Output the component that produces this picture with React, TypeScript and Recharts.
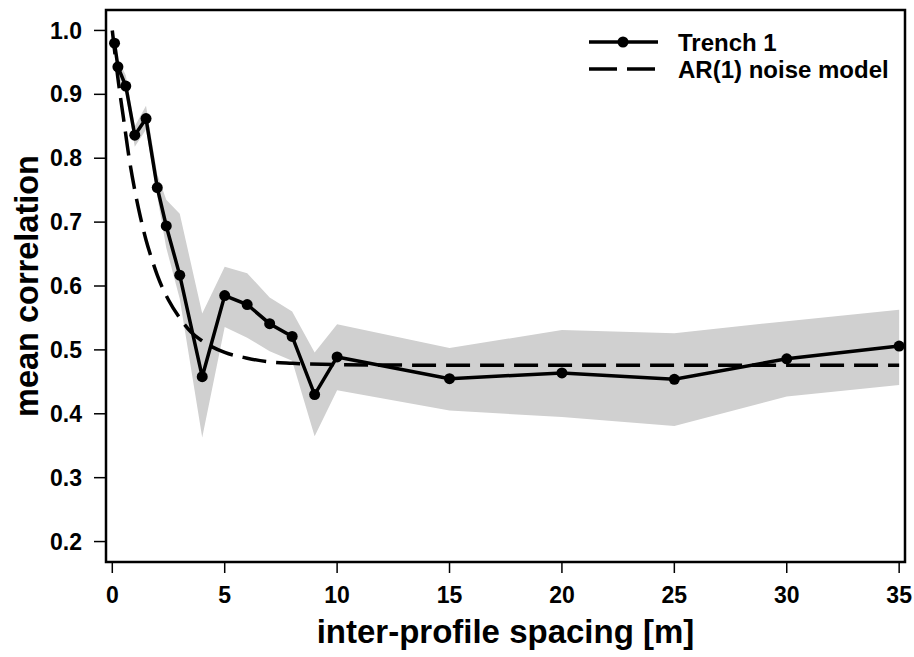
import React from 'react';
import { ComposedChart, Line, Area, XAxis, YAxis, ReferenceArea, Legend, Label } from 'recharts';

// ---- data ----
const trenchX = [0.1, 0.25, 0.6, 1.0, 1.5, 2.0, 2.4, 3, 4, 5, 6, 7, 8, 9, 10, 15, 20, 25, 30, 35];
const trenchMean = [0.980, 0.943, 0.913, 0.836, 0.862, 0.754, 0.694, 0.617, 0.458, 0.585, 0.571, 0.541, 0.521, 0.430, 0.489, 0.455, 0.464, 0.454, 0.486, 0.506];
const bandLow = [0.972, 0.930, 0.900, 0.818, 0.845, 0.740, 0.660, 0.580, 0.363, 0.536, 0.519, 0.498, 0.483, 0.365, 0.437, 0.405, 0.395, 0.381, 0.427, 0.445];
const bandHigh = [0.988, 0.955, 0.930, 0.850, 0.882, 0.775, 0.735, 0.713, 0.557, 0.630, 0.620, 0.582, 0.560, 0.496, 0.540, 0.503, 0.531, 0.526, 0.545, 0.563];

const arX = [0, 0.25, 0.5, 0.75, 1, 1.25, 1.5, 1.75, 2, 2.5, 3, 3.5, 4, 5, 6, 7, 8, 10, 15, 20, 25, 30, 35];
const arY = [1.0, 0.925, 0.862, 0.800, 0.750, 0.708, 0.672, 0.643, 0.617, 0.578, 0.550, 0.528, 0.514, 0.496, 0.487, 0.481, 0.479, 0.477, 0.476, 0.476, 0.476, 0.476, 0.476];

const xTicks = [0, 5, 10, 15, 20, 25, 30, 35];
const yTicks = [0.2, 0.3, 0.4, 0.5, 0.6, 0.7, 0.8, 0.9, 1.0];
const seriesNames = ['Trench 1', 'AR(1) noise model'];
const xTitle = 'inter-profile spacing [m]';
const yTitle = 'mean correlation';

const XMIN = -0.28, XMAX = 35.26, YMIN = 0.168, YMAX = 1.032;
const FONT = '"Liberation Sans", Arial, Helvetica, sans-serif';
const DASH = '24 10';

const tickStyle = { fill: '#000', fontSize: 23, fontWeight: 'bold' as const, fontFamily: FONT };

const XTitle = (props: any) => {
  const vb = props.viewBox || { x: 106, y: 562, width: 799, height: 95 };
  const cx = vb.x + vb.width / 2;
  const cy = vb.y + vb.height - 14;
  return (
    <text x={cx} y={cy} textAnchor="middle" fontFamily={FONT} fontWeight="bold" fontSize={33} fill="#000">{xTitle}</text>
  );
};

const YTitle = (props: any) => {
  const vb = props.viewBox || { x: 0, y: 10, width: 106, height: 552 };
  const cx = vb.x + 38;
  const cy = vb.y + vb.height / 2;
  return (
    <text x={cx} y={cy} transform={`rotate(-90 ${cx} ${cy})`} textAnchor="middle" fontFamily={FONT} fontWeight="bold" fontSize={32.5} fill="#000">{yTitle}</text>
  );
};

const LegendContent = () => (
  <svg width={334} height={64} style={{ display: 'block' }}>
    <line x1={9} x2={78} y1={17} y2={17} stroke="#000" strokeWidth={3.5} />
    <circle cx={43} cy={17} r={5.5} fill="#000" />
    <text x={98} y={17} dominantBaseline="central" fontFamily={FONT} fontWeight="bold" fontSize={24} fill="#000">{seriesNames[0]}</text>
    <line x1={9} x2={80} y1={44} y2={44} stroke="#000" strokeWidth={3.5} strokeDasharray="28 10" />
    <text x={98} y={44} dominantBaseline="central" fontFamily={FONT} fontWeight="bold" fontSize={24} fill="#000">{seriesNames[1]}</text>
  </svg>
);

export default function App() {
  const bandData = trenchX.map((x, i) => ({ x, band: [bandLow[i], bandHigh[i]] }));
  const trenchData = trenchX.map((x, i) => ({ x, y: trenchMean[i] }));
  const arData = arX.map((x, i) => ({ x, y: arY[i] }));

  return (
    <div style={{ position: 'absolute', left: 0, top: 0, width: 914, height: 657, background: '#fff' }}>
      <ComposedChart width={914} height={657} margin={{ top: 10, right: 9, bottom: 0, left: 0 }}>
        <XAxis
          type="number"
          dataKey="x"
          domain={[XMIN, XMAX]}
          allowDataOverflow
          ticks={xTicks}
          interval={0}
          axisLine={false}
          tickSize={11}
          tickMargin={14}
          height={95}
          tick={tickStyle}
          tickLine={{ stroke: '#000', strokeWidth: 1.5 }}
        >
          <Label content={<XTitle />} />
        </XAxis>
        <YAxis
          type="number"
          domain={[YMIN, YMAX]}
          allowDataOverflow
          ticks={yTicks}
          interval={0}
          axisLine={false}
          tickSize={12}
          tickMargin={12}
          width={106}
          tick={tickStyle}
          tickLine={{ stroke: '#000', strokeWidth: 1.5 }}
          tickFormatter={(v: number) => v.toFixed(1)}
        >
          <Label content={<YTitle />} />
        </YAxis>
        <Area
          data={bandData}
          dataKey="band"
          type="linear"
          fill="#d0d0d0"
          fillOpacity={1}
          stroke="none"
          isAnimationActive={false}
          legendType="none"
          activeDot={false}
        />
        <Line
          data={arData}
          dataKey="y"
          name={seriesNames[1]}
          type="monotone"
          stroke="#000"
          strokeWidth={3.5}
          strokeDasharray={DASH}
          dot={false}
          activeDot={false}
          isAnimationActive={false}
        />
        <Line
          data={trenchData}
          dataKey="y"
          name={seriesNames[0]}
          type="linear"
          stroke="#000"
          strokeWidth={3.5}
          dot={{ r: 5.5, fill: '#000', stroke: 'none' }}
          activeDot={false}
          isAnimationActive={false}
        />
        <ReferenceArea
          x1={XMIN}
          x2={XMAX}
          y1={YMIN}
          y2={YMAX}
          fill="none"
          stroke="#000"
          strokeWidth={2.5}
          ifOverflow="visible"
        />
        <Legend
          layout="horizontal"
          verticalAlign="middle"
          align="center"
          content={<LegendContent />}
          wrapperStyle={{ left: 580, top: 25, width: 334, height: 64 }}
        />
      </ComposedChart>
    </div>
  );
}
